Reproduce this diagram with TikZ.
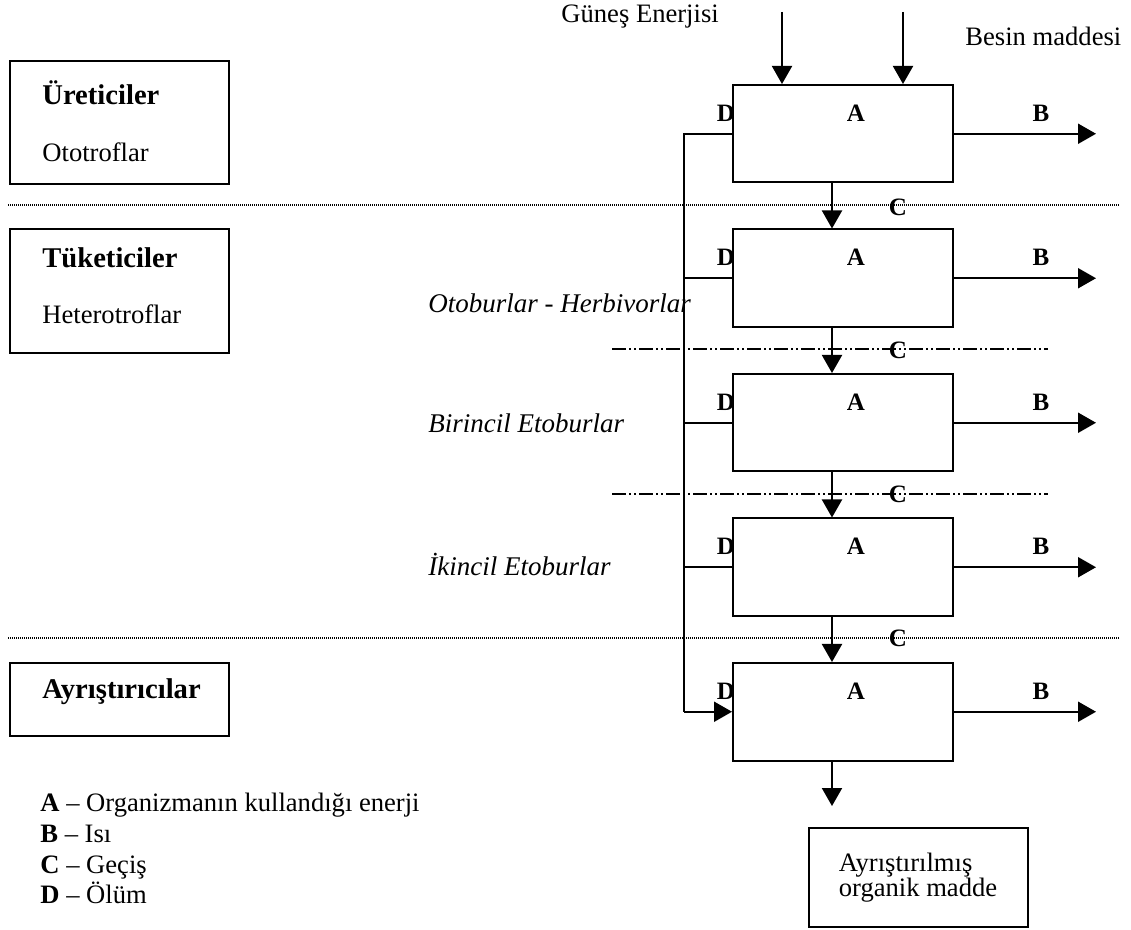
\documentclass[tikz,border=0pt]{standalone}
\usepackage{fontspec}
\setmainfont{Liberation Serif}
\usetikzlibrary{arrows.meta, positioning, calc}
\tikzset{
  kutu/.style = {draw=black, line width=1pt, minimum width=110pt,
    minimum height=48.75pt, inner sep=0pt},
  grp/.style = {draw=black, line width=1pt, minimum width=109.5pt, inner sep=0pt},
  harf/.style = {font=\fontsize{12.5}{14}\selectfont\bfseries, inner sep=0pt},
  yaz/.style = {font=\fontsize{13.3}{15}\selectfont, inner sep=0pt, anchor=west},
  bas/.style = {font=\fontsize{14.3}{16}\selectfont\bfseries, inner sep=0pt, anchor=west},
  ital/.style = {anchor=west, inner sep=0pt, font=\fontsize{13.5}{15}\selectfont\itshape},
  ok/.style = {-{Triangle[length=9pt, width=10pt]}, line width=1pt},
  ct/.style = {line width=1pt},
  nokt/.style = {line width=0.7pt, dash pattern=on 0.5pt off 0.5pt},
  ncz/.style = {line width=0.9pt, dash pattern=on 7pt off 1.5pt on 1pt off 1.5pt on 1pt off 1.5pt}
}

\begin{document}
\begin{tikzpicture}[x=0.5pt, y=-0.5pt]
  \path[fill=white, use as bounding box] (0,0) rectangle (1131,930);

  % ayirici cizgiler
  \draw[nokt] (8,205) -- (1120,205);
  \draw[nokt] (8,638) -- (1120,638);
  \draw[ncz] (612,349) -- (1048,349);
  \draw[ncz] (612,494) -- (1048,494);

  % sol kutular
  \node[grp, minimum height=61.5pt, anchor=north west] (ure) at (9,60) {};
  \node[bas] (uret) at (42,93) {Üreticiler};
  \node[yaz] (oto) at (42,152) {Ototroflar};
  \node[grp, minimum height=62pt, anchor=north west] (tuk) at (9,228) {};
  \node[bas] (tuke) at (42,258) {Tüketiciler};
  \node[yaz] (het) at (42,314) {Heterotroflar};
  \node[grp, minimum height=36.5pt, anchor=north west] (ayr) at (9,662) {};
  \node[bas] (ayri) at (42,692) {Ayrıştırıcılar};

  % trofik kutular
  \foreach \i in {1,...,5} {
    \node[kutu, anchor=north] (b\i) at (843, {84+(\i-1)*144.5}) {};
    \node[harf] (d\i) at ($(b\i.north west)+(-6,29)$) {D};
    \node[harf] (a\i) at ($(b\i.north west)+(124,29)$) {A};
    \node[harf] (bb\i) at ($(b\i.north west)+(309,29)$) {B};
    \coordinate (bu\i) at ($(b\i.east)+(142,0)$);
    \coordinate (dl\i) at ($(b\i.west)+(-48,0)$);
    \draw[ok] (b\i.east) -- (bu\i);
  }
  \foreach \i/\j in {1/2, 2/3, 3/4, 4/5}
    \draw[ok] ([xshift=-5.5pt]b\i.south) -- ([xshift=-5.5pt]b\j.north);
  \foreach \y [count=\i] in {207, 350, 494, 638}
    \node[harf] (c\i) at (898,\y) {C};

  % olum hatti
  \draw[ct] (b1.west) -- (dl1) -- (dl5);
  \draw[ok] (dl5) -- (b5.west);
  \foreach \i in {2,3,4} \draw[ct] (dl\i) -- (b\i.west);

  % girdiler
  \coordinate (g1) at (782,12);
  \coordinate (g2) at (903,12);
  \draw[ok] (g1) -- (g1 |- b1.north);
  \draw[ok] (g2) -- (g2 |- b1.north);
  \node[yaz] (gunes) at (561,17) {Güneş Enerjisi};
  \node[yaz] (besin) at (965,36) {Besin maddesi};

  % tuketici duzeyleri
  \node[ital] (otob) at (428,303) {Otoburlar - Herbivorlar};
  \node[ital] (bir) at (428,423) {Birincil Etoburlar};
  \node[ital] (iki) at (428,565) {İkincil Etoburlar};

  % cikti
  \coordinate (alt) at (832,806);
  \draw[ok] ([xshift=-5.5pt]b5.south) -- (alt);
  \node[grp, minimum height=49.5pt, align=left,
    font=\fontsize{13.3}{12.5}\selectfont] (sonuc) at (918,877.5)
    {Ayrıştırılmış\\organik madde};

  % aciklama
  \foreach \h/\t [count=\i] in {A/Organizmanın kullandığı enerji, B/Isı,
      C/Geçiş, D/Ölüm}
    \node[yaz, anchor=base west] (lj\i) at (40, {781+\i*30.7}) {\textbf{\h} – \t};
\end{tikzpicture}
\end{document}
